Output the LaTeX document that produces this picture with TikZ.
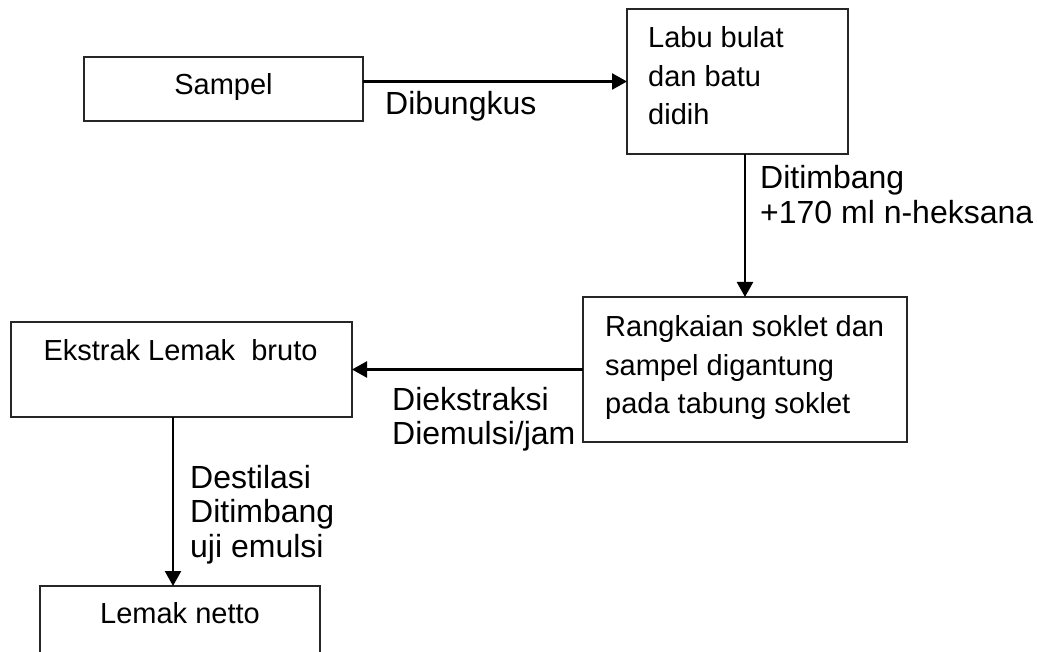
\documentclass[tikz,border=0pt]{standalone}
\usepackage{fontspec}
\setmainfont{Liberation Sans}
\usetikzlibrary{arrows.meta}
\newcommand\boxfont{\fontsize{29}{38.5}\selectfont}
\newcommand\labfont{\fontsize{32}{35}\selectfont}
\begin{document}
\begin{tikzpicture}[x=1pt,y=-1pt,
  box/.style={draw=black!85, line width=1.8pt, inner sep=0pt, outer sep=0pt},
  arr/.style={line width=2.4pt, -{Triangle[length=15pt,width=16pt]}},
  boxtxt/.style={inner sep=0pt, font=\boxfont},
  labtxt/.style={inner sep=0pt, anchor=base west, font=\labfont}
]
\clip (0,0) rectangle (1037,652);
\fill[white] (0,0) rectangle (1037,652);
% boxes
\node[box, minimum width=279pt, minimum height=64pt]  (sampel)  at (223.5,89)  {};
\node[box, minimum width=221pt, minimum height=145pt] (labu)    at (737.5,81.5) {};
\node[box, minimum width=324pt, minimum height=145pt] (rang)    at (745,369.5) {};
\node[box, minimum width=341pt, minimum height=95pt]  (ekstrak) at (181.5,369.5) {};
\node[box, minimum width=280pt, minimum height=114pt] (netto)   at (180,643)   {};
% box texts
\node[boxtxt, anchor=base] (tsampel) at (223.5,95) {Sampel};
\node[boxtxt, anchor=base west] (tlabu) at (648,48)
  {\begin{tabular}[t]{@{}l@{}}Labu bulat\\dan batu\\didih\end{tabular}};
\node[boxtxt, anchor=base west] (trang) at (605,337)
  {\begin{tabular}[t]{@{}l@{}}Rangkaian soklet dan\\sampel digantung\\pada tabung soklet\end{tabular}};
\node[boxtxt, anchor=base] (tekstrak) at (180.5,361) {Ekstrak Lemak\ \ bruto};
\node[boxtxt, anchor=base] (tnetto) at (180,623) {Lemak netto};
% connectors
\coordinate (c4) at (173,0);
\draw[arr] (sampel.east |- labu.west) -- (labu.west);
\draw[arr] (labu.south -| rang.north) -- (rang.north);
\draw[arr] (rang.west) -- (ekstrak.east);
\draw[arr] (ekstrak.south -| c4) -- (netto.north -| c4);
% connector labels
\node[labtxt] (l1) at (385,115) {Dibungkus};
\node[labtxt] (l2) at (760,189)
  {\begin{tabular}[t]{@{}l@{}}Ditimbang\\+170 ml n-heksana\end{tabular}};
\node[labtxt] (l3) at (392,410)
  {\begin{tabular}[t]{@{}l@{}}Diekstraksi\\Diemulsi/jam\end{tabular}};
\node[labtxt] (l4) at (190,488)
  {\begin{tabular}[t]{@{}l@{}}Destilasi\\Ditimbang\\uji emulsi\end{tabular}};
\end{tikzpicture}
\end{document}
